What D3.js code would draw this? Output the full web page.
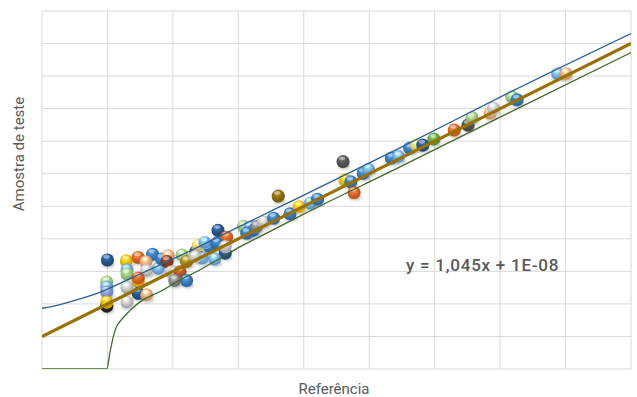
<!DOCTYPE html>
<html>
<head>
<meta charset="utf-8">
<script src="https://cdn.jsdelivr.net/npm/d3@7"></script>
<style>
  body { margin: 0; background: #fff; }
  text { font-family: Roboto, "Open Sans", sans-serif; fill: #595959; }
</style>
</head>
<body>
<div id="chart"></div>
<script>

// --------------------------------------
//  Data
// --------------------------------------

// reference values (x) and test sample values (y) of each marble
const refValues = [1.99, 2.00, 1.99, 1.99, 1.99, 1.99, 2.29, 2.47, 2.69, 2.59, 2.60, 2.30, 2.30, 2.30, 2.30,
  2.47, 2.47, 2.47, 2.60, 2.78, 2.83, 2.93, 2.91, 3.14, 3.21, 2.98, 3.03, 3.11, 3.03, 3.21,
  3.35, 3.39, 3.56, 3.69, 3.82, 3.49, 3.67, 3.80, 3.64, 3.45, 3.34, 3.80,
  4.08, 4.18, 4.23, 4.13, 4.28, 4.38, 4.54, 4.61, 4.79, 4.93, 5.10, 5.21,
  5.60, 5.63, 5.72, 5.77, 5.91, 5.99, 6.34, 6.45, 6.62, 6.72, 6.82, 6.99,
  7.30, 7.51, 7.57, 7.85, 7.90, 8.18, 8.26, 8.88, 9.01];

const testValues = [2.02, 3.50, 2.79, 2.63, 2.47, 2.15, 3.47, 3.58, 3.68, 3.44, 3.16, 3.18, 3.05, 2.62, 2.15,
  2.81, 2.92, 2.43, 2.38, 3.23, 3.53, 3.63, 3.45, 3.66, 3.45, 3.12, 3.11, 3.12, 2.84, 2.84,
  3.77, 3.98, 3.93, 4.45, 4.23, 4.06, 4.04, 3.72, 3.53, 3.56, 3.61, 3.93,
  4.58, 4.56, 4.45, 4.36, 4.57, 4.72, 4.84, 5.55, 4.98, 5.21, 5.32, 5.45,
  6.66, 6.07, 6.01, 5.66, 6.28, 6.41, 6.77, 6.82, 7.09, 7.19, 7.19, 7.38,
  7.67, 7.83, 8.07, 8.21, 8.37, 8.74, 8.64, 9.48, 9.48];

const marbleColors = ["black", "darkblue", "lightgreen", "lightblue", "periwinkle", "yellow", "yellow", "orange", "blue", "peach", "silver", "lightblue", "lightgreen", "silver", "silver",
  "yellow", "orange", "darkblue", "peach", "lightblue", "blue", "peach", "brown", "lightgreen", "olive", "silver", "silver", "rust", "gray", "blue",
  "darkgray", "lightyellow", "blue", "darkblue", "orange", "lightblue", "blue", "darkblue", "lightblue", "lightblue", "silver", "silver",
  "lightgreen", "lightblue", "blue", "blue", "gray", "silver", "blue", "olivedark", "blue", "yellow", "lightblue", "blue",
  "darkgray", "yellow", "blue", "orange", "blue", "lightblue", "blue", "lightblue", "blue", "lightyellow", "darkblue", "green",
  "orange", "darkgray", "lightgreen", "peach", "silver", "lightgreen", "blue", "lightblue", "peach"];

// upper and lower bands of the trend
const upperX = [1.00, 1.28, 1.58, 1.89, 2.19, 2.50, 2.80, 3.26, 4.03, 4.94, 6.47, 8.00, 10.00];
const upperY = [1.95, 2.07, 2.25, 2.47, 2.75, 3.05, 3.34, 3.79, 4.59, 5.52, 7.10, 8.73, 10.77];

const lowerX = [1.00, 1.99, 2.04, 2.09, 2.13, 2.19, 2.35, 2.54, 2.80, 3.11, 3.41, 3.72, 4.03, 4.33, 4.94, 6.47, 8.00, 10.00];
const lowerY = [0.00, 0.00, 0.55, 1.04, 1.32, 1.52, 1.89, 2.22, 2.48, 2.86, 3.18, 3.55, 3.93, 4.25, 4.91, 6.49, 8.09, 10.16];

// trend line y = 1,045x + 1E-08
const slope = 1.045;
const intercept = 1e-8;
const equationLabel = "y = 1,045x + 1E-08";

const palette = {
  black: "#1e1e1e", darkblue: "#1f4f85", blue: "#3576bd", lightblue: "#74b0e6",
  periwinkle: "#8598da", lightgreen: "#9fcc84", green: "#66a043", yellow: "#f0c00c",
  lightyellow: "#f0dc78", orange: "#dc6222", peach: "#eeae80", rust: "#bb5420",
  brown: "#8a3a16", olive: "#a3861f", olivedark: "#86680c", silver: "#c9c9c9",
  gray: "#858585", darkgray: "#4e4e4e"
};

// --------------------------------------
//  Margin and canvas
// --------------------------------------

const width = 637;
const height = 397;
const margin = {top: 11, right: 6, bottom: 28, left: 42};
const innerwidth = width - margin.left - margin.right;
const innerheight = height - margin.top - margin.bottom;

const svg = d3.select("#chart")
  .append("svg")
    .attr("width", width)
    .attr("height", height)
    .attr("viewBox", `0, 0, ${width}, ${height}`);

const defs = svg.append("defs");

defs.append("clipPath")
    .attr("id", "plot-clip")
  .append("rect")
    .attr("width", innerwidth)
    .attr("height", innerheight);

defs.append("filter")
    .attr("id", "soft")
    .attr("x", "-50%").attr("y", "-50%").attr("width", "200%").attr("height", "200%")
  .append("feGaussianBlur")
    .attr("stdDeviation", 1.3);

// one glossy gradient per marble colour
Object.entries(palette).forEach(([name, c]) => {
  const base = d3.color(c);
  const g = defs.append("radialGradient")
      .attr("id", `m-${name}`)
      .attr("cx", 0.45).attr("cy", 0.4).attr("r", 0.62)
      .attr("fx", 0.4).attr("fy", 0.3);
  g.append("stop").attr("offset", "0%").attr("stop-color", base.brighter(1.0));
  g.append("stop").attr("offset", "50%").attr("stop-color", base);
  g.append("stop").attr("offset", "85%").attr("stop-color", base.darker(0.6));
  g.append("stop").attr("offset", "100%").attr("stop-color", base.brighter(0.3));
});

const innerChart = svg
  .append("g")
    .attr("transform", `translate(${margin.left}, ${margin.top})`);

// --------------------------------------
//  Scales
// --------------------------------------

let x = d3.scaleLinear()
    .domain([1, 10])
    .range([0, innerwidth]);

let y = d3.scaleLinear()
    .domain([0, 11 * slope])
    .range([innerheight, 0]);

const xGrid = d3.range(1, 11);
const yGrid = d3.range(0, 12).map(i => i * slope);

// --------------------------------------
//  Grid
// --------------------------------------

innerChart.selectAll(".vgrid")
    .data(xGrid)
    .join("line")
    .attr("class", "vgrid")
    .attr("x1", d => x(d)).attr("x2", d => x(d))
    .attr("y1", 0).attr("y2", innerheight)
    .attr("stroke", "#d9d9d9")
    .attr("stroke-width", 1);

innerChart.selectAll(".hgrid")
    .data(yGrid)
    .join("line")
    .attr("class", "hgrid")
    .attr("x1", 0).attr("x2", innerwidth)
    .attr("y1", d => y(d)).attr("y2", d => y(d))
    .attr("stroke", "#d9d9d9")
    .attr("stroke-width", 1);

// --------------------------------------
//  Marbles
// --------------------------------------

const points = refValues.map((v, i) => ({ref: v, test: testValues[i], color: marbleColors[i]}));

const plot = innerChart.append("g").attr("clip-path", "url(#plot-clip)");

plot.selectAll(".shadow")
    .data(points)
    .join("ellipse")
    .attr("class", "shadow")
    .attr("cx", d => x(d.ref) + 1)
    .attr("cy", d => y(d.test) + 4.5)
    .attr("rx", 6.5)
    .attr("ry", 3.5)
    .attr("fill", "#000")
    .attr("opacity", 0.2)
    .attr("filter", "url(#soft)");

const marble = plot.selectAll(".marble")
    .data(points)
    .join("g")
    .attr("class", "marble")
    .attr("transform", d => `translate(${x(d.ref)}, ${y(d.test)})`);

marble.append("circle")
    .attr("r", 6.6)
    .attr("fill", d => `url(#m-${d.color})`)
    .attr("opacity", 0.95);

marble.append("ellipse")
    .attr("cx", -1)
    .attr("cy", -3.3)
    .attr("rx", 3.2)
    .attr("ry", 1.9)
    .attr("fill", "#fff")
    .attr("opacity", 0.45);

// --------------------------------------
//  Trend and bands
// --------------------------------------

const line = d3.line()
    .x(d => x(d[0]))
    .y(d => y(d[1]))
    .curve(d3.curveMonotoneX);

plot.append("path")
    .datum(upperX.map((v, i) => [v, upperY[i]]))
    .attr("d", line)
    .attr("fill", "none")
    .attr("stroke", "#2c5f8f")
    .attr("stroke-width", 1.3);

plot.append("path")
    .datum(lowerX.map((v, i) => [v, lowerY[i]]))
    .attr("d", line)
    .attr("fill", "none")
    .attr("stroke", "#3f6a25")
    .attr("stroke-width", 1.3);

const trend = x.domain().map(v => [v, slope * v + intercept]);

plot.append("path")
    .datum(trend)
    .attr("d", d3.line().x(d => x(d[0])).y(d => y(d[1])))
    .attr("fill", "none")
    .attr("stroke", "#987200")
    .attr("stroke-width", 3.2);

// --------------------------------------
//  Texts
// --------------------------------------

svg.append("text")
    .attr("x", 406)
    .attr("y", 271)
    .attr("font-size", 17)
    .attr("font-weight", 500)
    .attr("letter-spacing", 0.75)
    .text(equationLabel);

svg.append("text")
    .attr("x", 334)
    .attr("y", 394)
    .attr("text-anchor", "middle")
    .attr("font-size", 15)
    .text("Referência");

svg.append("text")
    .attr("transform", "translate(24, 154) rotate(-90)")
    .attr("text-anchor", "middle")
    .attr("font-size", 15)
    .text("Amostra de teste");

</script>
</body>
</html>
